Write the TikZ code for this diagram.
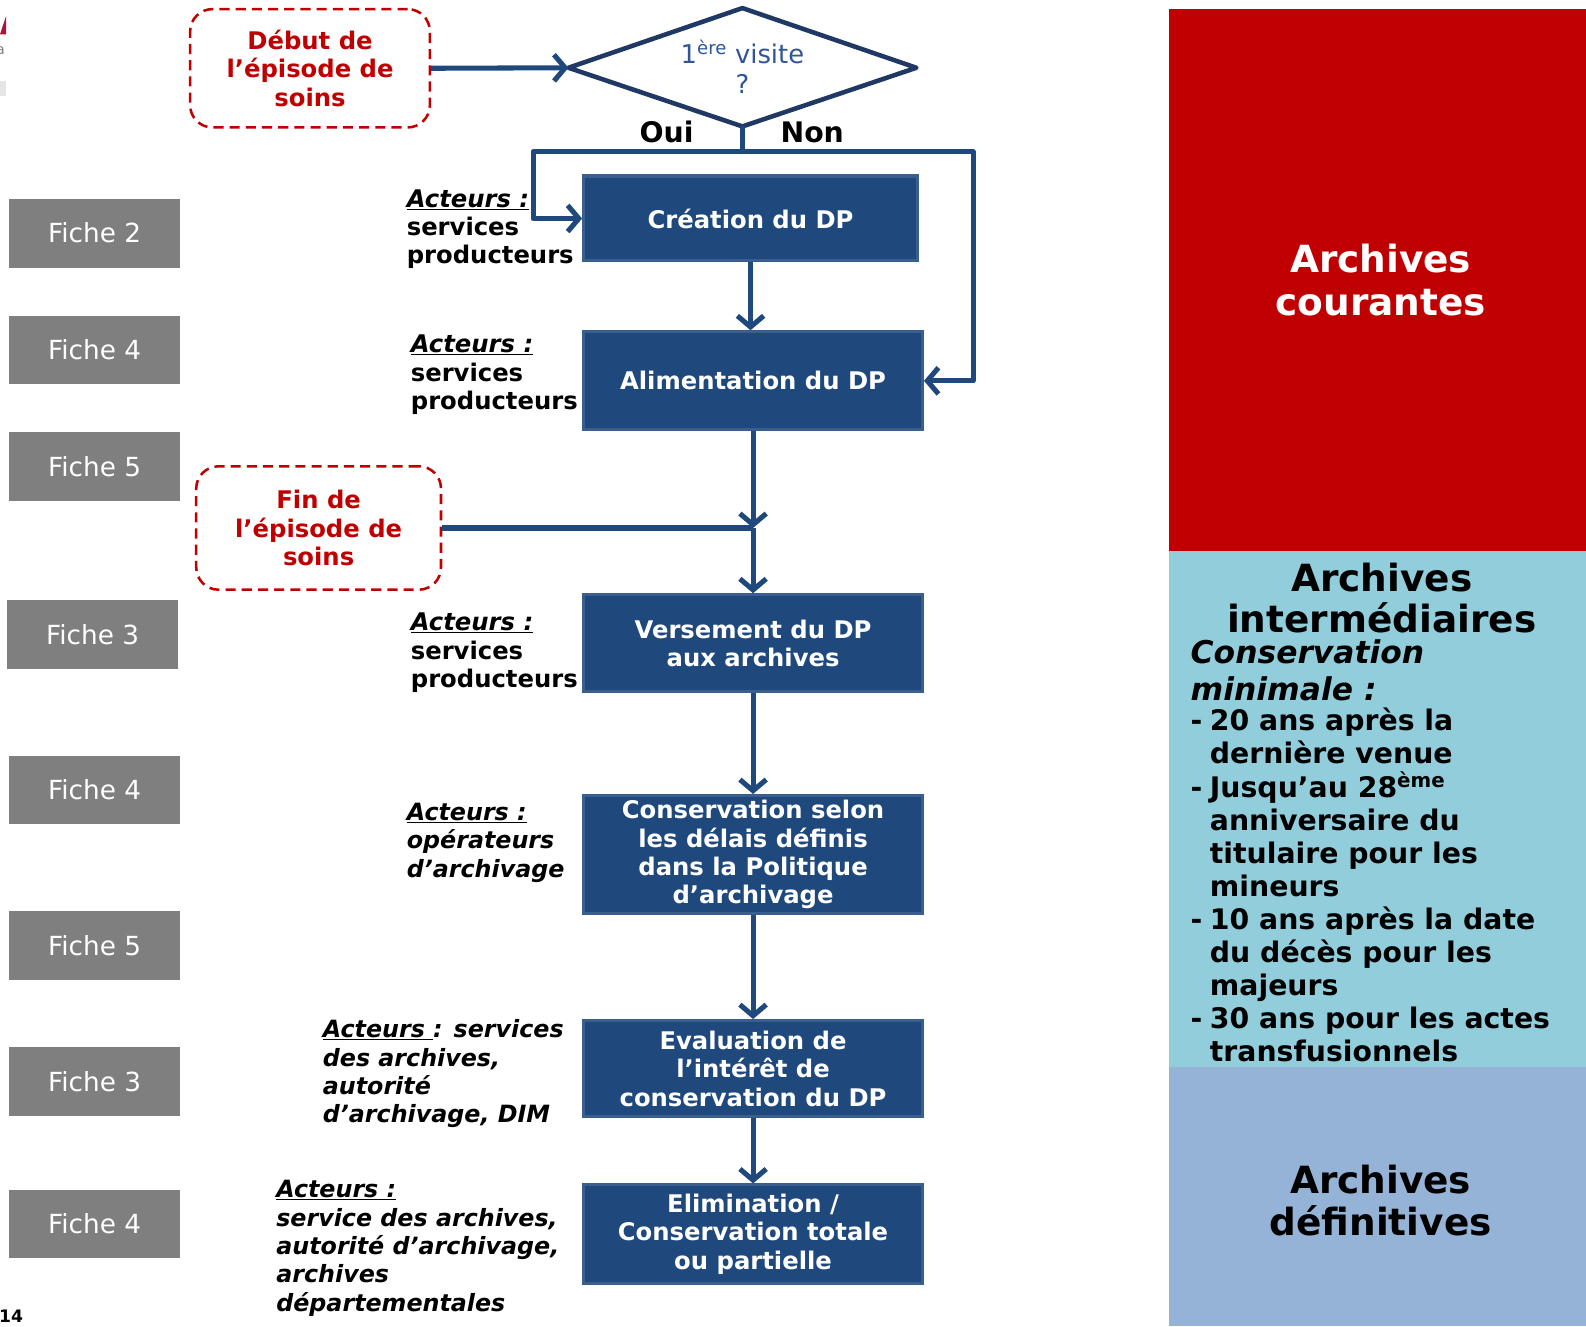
\documentclass[tikz,border=0pt]{standalone}
\usepackage{fontspec}
\setmainfont{DejaVu Sans}[BoldFont={DejaVu Sans Bold},ItalicFont={DejaVu Sans Oblique},BoldItalicFont={DejaVu Sans Bold Oblique}]
\usetikzlibrary{arrows.meta}
\definecolor{ficheg}{HTML}{7F7F7F}
\definecolor{boxblue}{HTML}{1F497D}
\definecolor{boxedge}{HTML}{3A5F8E}
\definecolor{lineblue}{HTML}{1F497D}
\definecolor{navy}{HTML}{1F3864}
\definecolor{diatext}{HTML}{2F5597}
\definecolor{evred}{HTML}{C00000}
\definecolor{courred}{HTML}{C00000}
\definecolor{interblue}{HTML}{92CDDC}
\definecolor{defblue}{HTML}{95B3D7}
\definecolor{crimson}{HTML}{B0103A}
\newcommand{\myact}{\underline{\textit{Acteurs :}}}
\newcommand{\dsh}{\makebox[19pt][l]{-}}
\newcommand{\cont}{\hspace*{19pt}}
\begin{document}
\begin{tikzpicture}[x=1pt,y=1pt,
 fiche/.style={fill=ficheg,text=white,minimum width=169pt,minimum height=68pt,inner sep=0pt,font=\fontsize{26}{30}\selectfont},
 proc/.style={fill=boxblue,draw=boxedge,line width=3pt,text=white,font=\bfseries\fontsize{24}{28}\selectfont,align=center,inner sep=0pt,minimum width=335pt},
 evt/.style={draw=evred,line width=2.5pt,dash pattern=on 10pt off 6pt,rounded corners=22pt,text=evred,font=\bfseries\fontsize{24}{28}\selectfont,align=center,inner sep=0pt},
 conn/.style={draw=lineblue,line width=5pt,line join=round},
 arr/.style={conn,-{Straight Barb[length=11pt,width=26pt]}},
 act/.style={anchor=north west,inner sep=0pt,align=left,font=\bfseries\fontsize{24}{28}\selectfont},
 lbl/.style={font=\bfseries\fontsize{28}{32}\selectfont,inner sep=0pt},
 panel/.style={anchor=north west,inner sep=0pt,minimum width=412pt,align=center,font=\bfseries\fontsize{37}{42}\selectfont}]
\useasboundingbox (0,0) rectangle (1568,-1311);

% slide fragments
\fill[crimson] (0,-34) -- (6,-16) -- (6,-34) -- cycle;
\node[anchor=west,inner sep=0pt,text=gray,font=\fontsize{14}{16}\selectfont] (fa) at (-4,-50) {a};
\fill[gray!20] (0,-80) rectangle (6,-95);
\node[font=\bfseries\fontsize{17}{20}\selectfont,inner sep=0pt] (pg) at (11,-1301) {14};

% right panels
\node[panel,fill=courred,minimum height=536pt] (cour) at (1156,-9) {};
\node[panel,fill=interblue,minimum height=510pt] (inter) at (1156,-545) {};
\node[panel,fill=defblue,minimum height=256pt] (def) at (1156,-1055) {};
\node[font=\bfseries\fontsize{37}{42}\selectfont,align=center,inner sep=0pt,text=white] (court) at (1365,-277) {Archives\\courantes};
\node[font=\bfseries\fontsize{37}{42}\selectfont,align=center,inner sep=0pt] (deft) at (1365,-1187) {Archives\\définitives};
\node[font=\bfseries\fontsize{37}{41}\selectfont,align=center,inner sep=0pt] (intt) at (1366,-591) {Archives\\intermédiaires};
\node[anchor=north west,inner sep=0pt,align=left,font=\bfseries\itshape\fontsize{31}{37}\selectfont] (cmin) at (1177,-632) {Conservation\\minimale :};
\node[anchor=north west,inner sep=0pt,align=left,font=\bfseries\fontsize{28}{32.7}\selectfont] (list) at (1177,-700) {%
\dsh 20 ans après la\\
\cont dernière venue\\
\dsh Jusqu’au 28\textsuperscript{ème}\\
\cont anniversaire du\\
\cont titulaire pour les\\
\cont mineurs\\
\dsh 10 ans après la date\\
\cont du décès pour les\\
\cont majeurs\\
\dsh 30 ans pour les actes\\
\cont transfusionnels};

% fiches
\node[fiche] (f1) at (93.5,-230.5) {Fiche 2};
\node[fiche] (f2) at (93.5,-346) {Fiche 4};
\node[fiche] (f3) at (93.5,-461) {Fiche 5};
\node[fiche] (f4) at (91.5,-627) {Fiche 3};
\node[fiche] (f5) at (93.5,-781) {Fiche 4};
\node[fiche] (f6) at (93.5,-934.5) {Fiche 5};
\node[fiche] (f7) at (93.5,-1069) {Fiche 3};
\node[fiche] (f8) at (93.5,-1210) {Fiche 4};

% events
\node[evt,minimum width=237pt,minimum height=117pt] (debut) at (306.5,-67.5) {Début de\\l’épisode de\\soins};
\node[evt,minimum width=242pt,minimum height=122pt] (fin) at (315,-522) {Fin de\\l’épisode de\\soins};

% decision
\coordinate (diaW) at (562,-67);
\coordinate (diaN) at (734,-8);
\coordinate (diaE) at (906,-67);
\coordinate (diaS) at (734,-125);
\draw[navy,line width=4.5pt,line join=round] (diaW) -- (diaN) -- (diaE) -- (diaS) -- cycle;
\node[inner sep=0pt,align=center,text=diatext,font=\fontsize{25.5}{29}\selectfont] (dia) at (734,-66) {1\textsuperscript{ère} visite\\?};
\node[lbl] (oui) at (659,-130) {Oui};
\node[lbl] (non) at (803,-131) {Non};

% process boxes
\node[proc,minimum width=330pt,minimum height=84pt] (crea) at (742,-216) {Création du DP};
\node[proc,minimum height=97pt] (alim) at (744.5,-376.5) {Alimentation du DP};
\node[proc,minimum height=96pt] (vers) at (744.5,-636) {Versement du DP\\aux archives};
\node[proc,minimum height=117pt] (cons) at (744.5,-845) {Conservation selon\\les délais définis\\dans la Politique\\d’archivage};
\node[proc,minimum height=95pt] (eval) at (744.5,-1056.5) {Evaluation de\\l’intérêt de\\conservation du DP};
\node[proc,minimum height=97pt] (elim) at (744.5,-1220) {Elimination /\\Conservation totale\\ou partielle};

% actors
\node[act] (a1) at (402,-187) {\myact\\services\\producteurs};
\node[act] (a2) at (406,-331) {\myact\\services\\producteurs};
\node[act] (a3) at (406,-606) {\myact\\services\\producteurs};
\node[act,font=\bfseries\itshape\fontsize{23.5}{28}\selectfont] (a4) at (402,-794) {\myact\\opérateurs\\d’archivage};
\node[act,font=\bfseries\itshape\fontsize{23.5}{28}\selectfont] (a5) at (319,-1008) {\underline{Acteurs }: services\\des archives,\\autorité\\d’archivage, DIM};
\node[act,font=\bfseries\itshape\fontsize{23.5}{28}\selectfont] (a6) at (273,-1167) {\myact\\service des archives,\\autorité d’archivage,\\archives\\départementales};

% connectors
\coordinate (split) at (734,-150);
\coordinate (sl) at (527,-150);
\coordinate (sr) at (962,-150);
\coordinate (jn) at (744.5,-522);
\draw[arr] (debut.east) -- (diaW);
\draw[conn] (diaS) -- (split);
\draw[arr] (split) -- (sl) |- (crea.west);
\draw[arr] (split) -- (sr) |- (alim.east);
\draw[arr] (crea.south) -- (crea.south |- alim.north);
\draw[arr] (alim.south) -- (jn);
\draw[conn] (fin.east) -- (jn);
\draw[arr] (jn) -- (vers.north);
\draw[arr] (vers.south) -- (cons.north);
\draw[arr] (cons.south) -- (eval.north);
\draw[arr] (eval.south) -- (elim.north);
\end{tikzpicture}
\end{document}
